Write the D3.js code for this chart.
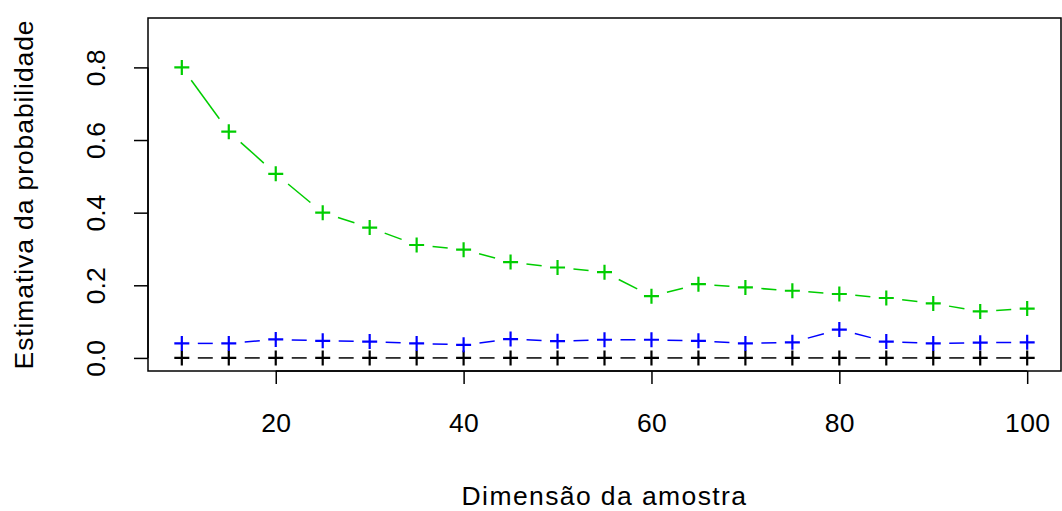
<!DOCTYPE html>
<html>
<head>
<meta charset="utf-8">
<script src="https://cdn.jsdelivr.net/npm/d3@7"></script>
<style>
  html, body { margin: 0; padding: 0; background: #fff; }
  svg { display: block; }
  text { font-family: "Liberation Sans", Arial, Helvetica, sans-serif; fill: #000; }
</style>
</head>
<body>
<svg id="chart" width="1062" height="511"></svg>
<script>
// Sample sizes
const sampleSizes = [10, 15, 20, 25, 30, 35, 40, 45, 50, 55, 60, 65, 70, 75, 80, 85, 90, 95, 100];

// Estimated probabilities for each sample size
const seriesGreen = [0.800, 0.623, 0.507, 0.400, 0.359, 0.311, 0.298, 0.264, 0.249, 0.236, 0.170, 0.203, 0.194, 0.185, 0.176, 0.165, 0.150, 0.128, 0.136];
const seriesBlue  = [0.040, 0.040, 0.051, 0.047, 0.045, 0.040, 0.036, 0.052, 0.046, 0.050, 0.050, 0.047, 0.040, 0.043, 0.078, 0.045, 0.040, 0.042, 0.043];
const seriesBlack = [0, 0, 0, 0, 0, 0, 0, 0, 0, 0, 0, 0, 0, 0, 0, 0, 0, 0, 0];

const xTicks = [20, 40, 60, 80, 100];
const yTicks = [0.0, 0.2, 0.4, 0.6, 0.8];

const xTitle = "Dimensão da amostra";
const yTitle = "Estimativa da probabilidade";

const series = [
  { values: seriesBlack, color: "#000000" },
  { values: seriesBlue,  color: "#0000FF" },
  { values: seriesGreen, color: "#00CD00" }
];

// Plot region
const plotLeft = 148, plotRight = 1061, plotTop = 18, plotBottom = 371;

// Axis limits padded by 4% on each side
const xr = [10, 100], yr = [0, 0.9];
const xpad = (xr[1] - xr[0]) * 0.04, ypad = (yr[1] - yr[0]) * 0.04;
const x = d3.scaleLinear().domain([xr[0] - xpad, xr[1] + xpad]).range([plotLeft, plotRight]);
const y = d3.scaleLinear().domain([yr[0] - ypad, yr[1] + ypad]).range([plotBottom, plotTop]);

const svg = d3.select("#chart");
const fontSize = 26.5;

// Lines with gaps around each point, then "+" markers
const gap = 16;
series.forEach(s => {
  const pts = sampleSizes.map((d, i) => [x(d), y(s.values[i])]);
  const segs = [];
  for (let i = 0; i < pts.length - 1; i++) {
    const [x0, y0] = pts[i], [x1, y1] = pts[i + 1];
    const len = Math.hypot(x1 - x0, y1 - y0);
    if (len > 2 * gap) {
      const ux = (x1 - x0) / len, uy = (y1 - y0) / len;
      segs.push([x0 + ux * gap, y0 + uy * gap, x1 - ux * gap, y1 - uy * gap]);
    }
  }
  svg.append("g").selectAll("line").data(segs).join("line")
    .attr("x1", d => d[0]).attr("y1", d => d[1])
    .attr("x2", d => d[2]).attr("y2", d => d[3])
    .attr("stroke", s.color).attr("stroke-width", 1.5);

  const arm = 7.5;
  svg.append("g").selectAll("path").data(pts).join("path")
    .attr("d", ([px, py]) => `M${px - arm},${py}H${px + arm}M${px},${py - arm}V${py + arm}`)
    .attr("stroke", s.color).attr("stroke-width", 2.2).attr("fill", "none");
});

// Box
svg.append("rect")
  .attr("x", plotLeft).attr("y", plotTop)
  .attr("width", plotRight - plotLeft).attr("height", plotBottom - plotTop)
  .attr("fill", "none").attr("stroke", "#000").attr("stroke-width", 1.5);

// X axis
const xAxis = d3.axisBottom(x).tickValues(xTicks).tickSize(13)
  .tickFormat(d3.format("d"));
const gx = svg.append("g").attr("transform", `translate(0,${plotBottom})`).call(xAxis);
gx.select(".domain").attr("d", `M${x(xTicks[0])},0H${x(xTicks[xTicks.length - 1])}`)
  .attr("stroke-width", 1.5);
gx.selectAll(".tick line").attr("stroke-width", 1.5);
gx.selectAll(".tick text").attr("font-size", fontSize).attr("letter-spacing", 0.3)
  .attr("font-family", null).attr("dy", null).attr("y", 61);

// Y axis
const yAxis = d3.axisLeft(y).tickValues(yTicks).tickSize(14)
  .tickFormat(d3.format(".1f"));
const gy = svg.append("g").attr("transform", `translate(${plotLeft},0)`).call(yAxis);
gy.select(".domain").attr("d", `M0,${y(yTicks[0])}V${y(yTicks[yTicks.length - 1])}`)
  .attr("stroke-width", 1.5);
gy.selectAll(".tick line").attr("stroke-width", 1.5);
gy.selectAll(".tick text")
  .attr("x", null).attr("dy", null).attr("font-family", null)
  .attr("transform", "translate(-43,0) rotate(-90)")
  .attr("text-anchor", "middle")
  .attr("font-size", fontSize);

// Axis titles
svg.append("text")
  .attr("x", (plotLeft + plotRight) / 2).attr("y", 505)
  .attr("text-anchor", "middle").attr("font-size", fontSize).attr("letter-spacing", 1.4)
  .text(xTitle);

svg.append("text")
  .attr("transform", `translate(33,${(plotTop + plotBottom) / 2}) rotate(-90)`)
  .attr("text-anchor", "middle").attr("font-size", fontSize).attr("letter-spacing", 0.9)
  .text(yTitle);
</script>
</body>
</html>
